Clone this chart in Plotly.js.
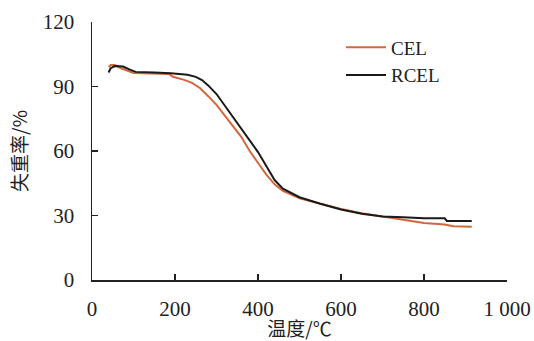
<!DOCTYPE html>
<html>
<head>
<meta charset="utf-8">
<script src="https://cdn.plot.ly/plotly-3.0.1.min.js"></script>
<style>html,body{margin:0;padding:0;background:#fff;}#chart{width:534px;height:341px;}</style>
</head>
<body>
<div id="chart"></div>
<script>
var celTemp = [40, 45, 55, 70, 100, 150, 185, 195, 220, 240, 260, 280, 300, 320, 340, 360, 380, 400, 420, 440, 460, 500, 550, 600, 650, 700, 750, 800, 850, 870, 915];
var celLoss = [99.0, 100.0, 100.0, 98.5, 96.3, 96.0, 95.8, 94.5, 93.2, 91.8, 89.3, 85.5, 81.5, 76.5, 71.5, 66.5, 60.0, 54.5, 49.0, 44.5, 41.5, 38.0, 35.5, 33.0, 31.0, 29.5, 27.8, 26.5, 25.8, 25.0, 24.8];
var rcelTemp = [40, 45, 55, 75, 90, 105, 150, 190, 230, 250, 265, 280, 300, 320, 340, 360, 380, 400, 420, 440, 460, 500, 550, 600, 650, 700, 750, 800, 850, 855, 915];
var rcelLoss = [96.5, 98.5, 99.5, 99.3, 98.0, 96.8, 96.5, 96.2, 95.5, 94.5, 93.0, 90.5, 86.5, 81.0, 75.5, 70.0, 65.0, 59.5, 53.0, 46.5, 42.5, 38.5, 35.5, 32.8, 30.8, 29.5, 29.2, 28.7, 28.7, 27.5, 27.4];
var xTicks = [0, 200, 400, 600, 800, 1000];
var xTickText = ['0', '200', '400', '600', '800', '1 000'];
var yTicks = [0, 30, 60, 90, 120];
var yTickText = ['0', '30', '60', '90', '120'];

var serif = '"Liberation Serif", "Times New Roman", serif';
var cjk = '"Noto Sans CJK SC", sans-serif';

var traces = [
  {x: celTemp, y: celLoss, name: 'CEL', mode: 'lines', line: {color: '#d0683c', width: 2}},
  {x: rcelTemp, y: rcelLoss, name: 'RCEL', mode: 'lines', line: {color: '#1a1a1a', width: 2}}
];

var layout = {
  width: 534, height: 341,
  margin: {l: 92, r: 27, t: 22, b: 61},
  paper_bgcolor: '#fff', plot_bgcolor: '#fff',
  font: {family: serif, size: 20, color: '#222'},
  showlegend: true,
  legend: {x: 0.6, y: 0.975, xanchor: 'left', yanchor: 'top', bgcolor: 'rgba(0,0,0,0)',
           font: {family: serif, size: 19, color: '#222'}, tracegroupgap: 0, itemwidth: 40},
  xaxis: {
    range: [0, 1000], tickvals: xTicks, ticktext: xTickText,
    showline: true, linecolor: '#222', linewidth: 1.5, mirror: false,
    ticks: 'inside', ticklen: 6, tickcolor: '#222', tickwidth: 1.5,
    showgrid: false, zeroline: false, ticklabelstandoff: 9,
    tickfont: {family: serif, size: 21, color: '#222'},
    title: {text: '温度/℃', font: {family: cjk, size: 19, color: '#222'}, standoff: 8}
  },
  yaxis: {
    range: [0, 120], tickvals: yTicks, ticktext: yTickText,
    showline: true, linecolor: '#222', linewidth: 1.5, mirror: false,
    ticks: 'inside', ticklen: 6, tickcolor: '#222', tickwidth: 1.5,
    showgrid: false, zeroline: false, ticklabelstandoff: 12,
    tickfont: {family: serif, size: 21, color: '#222'},
    title: {text: '失重率/%', font: {family: cjk, size: 19, color: '#222'}, standoff: 10}
  }
};

Plotly.newPlot('chart', traces, layout, {displayModeBar: false, staticPlot: true});
</script>
</body>
</html>
